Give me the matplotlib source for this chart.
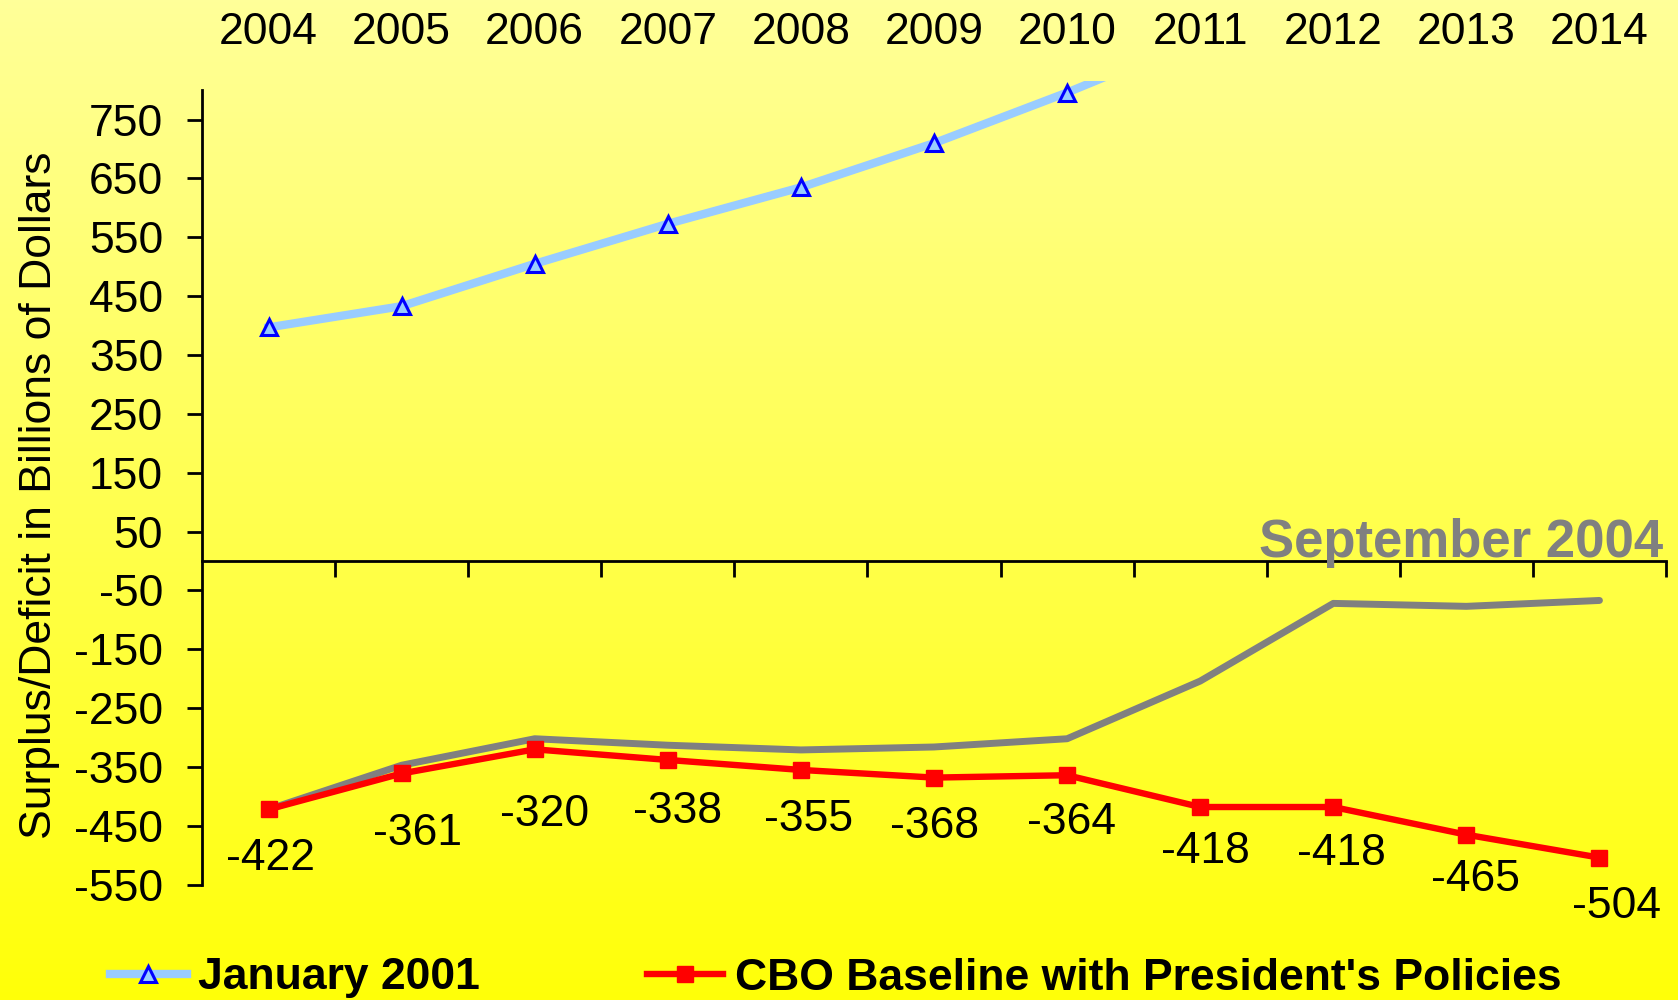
import numpy as np
import matplotlib
matplotlib.use("Agg")
import matplotlib.pyplot as plt

plt.rcParams['font.family'] = ['Liberation Sans', 'DejaVu Sans']
plt.rcParams['axes.unicode_minus'] = False

# ---------------- data ----------------
years = [2004, 2005, 2006, 2007, 2008, 2009, 2010, 2011, 2012, 2013, 2014]
jan2001_years = [2004, 2005, 2006, 2007, 2008, 2009, 2010, 2011]
jan2001 = [397, 433, 505, 573, 635, 710, 796, 889]
sep2004 = [-422, -347, -302, -313, -321, -316, -302, -204, -72, -77, -67]
cbo_policies = [-422, -361, -320, -338, -355, -368, -364, -418, -418, -465, -504]
y_ticks = [750, 650, 550, 450, 350, 250, 150, 50, -50, -150, -250, -350, -450, -550]
y_tick_labels = ['750', '650', '550', '450', '350', '250', '150', '50',
                 '-50', '-150', '-250', '-350', '-450', '-550']
year_labels = [str(y) for y in years]

# label offsets (points) for the red series data labels
label_dx = [1.4, 11.3, 7, 7, 5.8, 0.4, 2.9, 3.6, 5.8, 6.5, 12.6]
label_dy = [32, 40, 43.7, 33.7, 32.4, 31.7, 30.5, 28.6, 30, 29, 32]

W, H = 1678, 1000
fig = plt.figure(figsize=(W / 100, H / 100), dpi=100)

# background gradient
bg = fig.add_axes([0, 0, 1, 1], zorder=-10)
t = np.linspace(0, 1, 500)[:, None]
top = np.array([255, 255, 153]) / 255
bot = np.array([255, 255, 8]) / 255
grad = top[None, None, :] * (1 - t[..., None]) + bot[None, None, :] * t[..., None]
grad = np.repeat(grad, 2, axis=1)
bg.imshow(grad, aspect='auto', extent=[0, 1, 0, 1])
bg.set_axis_off()

ax = fig.add_axes([202 / W, 0.1153, (1666 - 202) / W, 0.9192 - 0.1153])
ax.patch.set_alpha(0)

ax.set_xlim(2003.5, 2014.5)
ax.set_ylim(-550, 816)

# lines
ax.plot(jan2001_years, jan2001, color='#99CCFF', lw=6, zorder=3,
        marker='^', markersize=11.5, markerfacecolor='#99CCFF',
        markeredgecolor='#0000FF', markeredgewidth=2.2,
        label='January 2001')
ax.plot(years, sep2004, color='#808080', lw=5, zorder=2,
        solid_capstyle='round', solid_joinstyle='round')
ax.plot(years, cbo_policies, color='#FF0000', lw=4.6, zorder=4,
        marker='s', markersize=11, markerfacecolor='#FF0000',
        markeredgecolor='#FF0000', label="CBO Baseline with President's Policies")

for x, v, dx, dy in zip(years, cbo_policies, label_dx, label_dy):
    ax.annotate(str(v), (x, v), xytext=(dx, -(dy + 11.5)),
                textcoords='offset points', ha='center', va='baseline',
                fontsize=32, color='black', zorder=5)

# spines
for s in ['top', 'right']:
    ax.spines[s].set_visible(False)
ax.spines['left'].set_bounds(-550, 800)
ax.spines['bottom'].set_position(('data', 0))
ax.spines['left'].set_linewidth(2)
ax.spines['bottom'].set_linewidth(2)

ax.set_yticks(y_ticks)
ax.set_yticklabels(y_tick_labels)
ax.tick_params(axis='y', which='major', direction='out', length=11, width=2,
               pad=17, labelsize=32)

ax.set_xticks(years)
ax.set_xticklabels(year_labels)
ax.set_xticks([y + 0.5 for y in years], minor=True)
ax.tick_params(axis='x', which='major', bottom=False, top=False,
               labelbottom=False, labeltop=True, labelsize=32, pad=16.5)
ax.tick_params(axis='x', which='minor', bottom=True, direction='out',
               length=11.5, width=2)

fig.text(51 / W, 0.505, 'Surplus/Deficit in Billions of Dollars', rotation=90,
         rotation_mode='anchor', ha='center', va='baseline', fontsize=32)

fig.text(1663 / W, 1 - 556.7 / H, 'September 2004', ha='right', va='baseline',
         fontsize=38, fontweight='bold', color='#808080')

leg = fig.legend(loc='center left', bbox_to_anchor=(110 / W, 1 - 978 / H),
                 ncol=2, frameon=False, prop={'size': 32, 'weight': 'bold'},
                 handlelength=1.73, handletextpad=0.25, columnspacing=3.75,
                 borderpad=0, borderaxespad=0, numpoints=1)

fig.savefig('out.png', dpi=100)
